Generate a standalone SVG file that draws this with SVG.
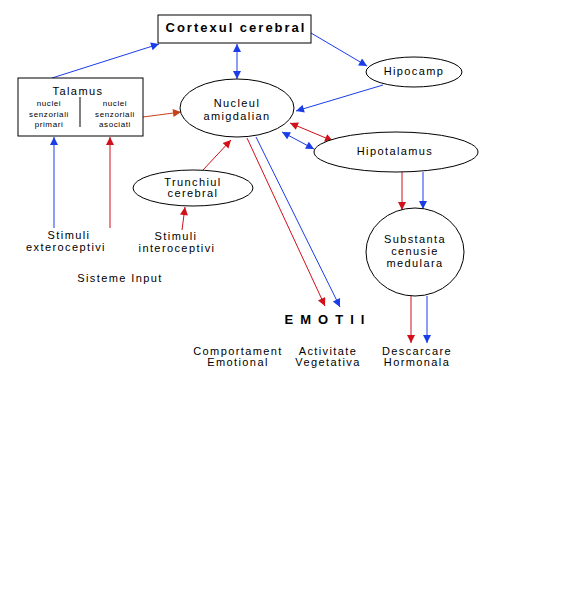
<svg xmlns="http://www.w3.org/2000/svg" width="582" height="600" viewBox="0 0 582 600">
<defs>
<marker id="ab" viewBox="0 0 10 10" refX="10" refY="5" markerWidth="9" markerHeight="8" markerUnits="userSpaceOnUse" orient="auto-start-reverse"><path d="M0,0 L10,5 L0,10 z" fill="#1a3de8"/></marker>
<marker id="ar" viewBox="0 0 10 10" refX="10" refY="5" markerWidth="9" markerHeight="8" markerUnits="userSpaceOnUse" orient="auto-start-reverse"><path d="M0,0 L10,5 L0,10 z" fill="#d0101a"/></marker>
<marker id="ao" viewBox="0 0 10 10" refX="10" refY="5" markerWidth="9" markerHeight="8" markerUnits="userSpaceOnUse" orient="auto-start-reverse"><path d="M0,0 L10,5 L0,10 z" fill="#c8401a"/></marker>
</defs>
<style>
text{font-family:"Liberation Sans",Arial,sans-serif;font-size:11px;letter-spacing:1.4px;fill:#000;text-anchor:middle}
.s{font-size:8px;letter-spacing:0.6px}
.b{font-weight:bold;font-size:13px;letter-spacing:2px}
.shape{fill:#fff;stroke:#000;stroke-width:1}
.bl{stroke:#1a3de8;stroke-width:1;fill:none}
.rd{stroke:#d0101a;stroke-width:1;fill:none}
.or{stroke:#c8401a;stroke-width:1;fill:none}
</style>
<rect width="582" height="600" fill="#fff"/>
<g id="connectors">
<line class="bl" x1="52" y1="78" x2="159" y2="44" marker-end="url(#ab)"/>
<line class="bl" x1="237" y1="44" x2="237" y2="79" marker-start="url(#ab)" marker-end="url(#ab)"/>
<line class="bl" x1="311" y1="33" x2="367" y2="66" marker-end="url(#ab)"/>
<line class="bl" x1="383" y1="85" x2="296" y2="111" marker-end="url(#ab)"/>
<line class="rd" x1="290" y1="123" x2="333" y2="141" marker-start="url(#ar)" marker-end="url(#ar)"/>
<line class="bl" x1="282" y1="132" x2="314" y2="149" marker-start="url(#ab)" marker-end="url(#ab)"/>
<line class="or" x1="143" y1="117" x2="181" y2="112" marker-end="url(#ao)"/>
<line class="rd" x1="203" y1="170" x2="231" y2="140" marker-end="url(#ar)"/>
<line class="bl" x1="54" y1="228" x2="54" y2="137" marker-end="url(#ab)"/>
<line class="rd" x1="110" y1="228" x2="110" y2="137" marker-end="url(#ar)"/>
<line class="rd" x1="182" y1="230" x2="185" y2="207" marker-end="url(#ar)"/>
<line class="rd" x1="247" y1="138" x2="325" y2="306" marker-end="url(#ar)"/>
<line class="bl" x1="256" y1="137" x2="340" y2="307" marker-end="url(#ab)"/>
<line class="rd" x1="402" y1="172" x2="402" y2="210" marker-end="url(#ar)"/>
<line class="bl" x1="423" y1="172" x2="423" y2="209" marker-end="url(#ab)"/>
<line class="rd" x1="411" y1="296" x2="411" y2="343" marker-end="url(#ar)"/>
<line class="bl" x1="427" y1="296" x2="427" y2="343" marker-end="url(#ab)"/>
</g>
<g id="cortex">
<rect class="shape" x="158" y="15" width="153" height="28"/>
<text class="b" x="236" y="32">Cortexul cerebral</text>
</g>
<g id="talamus">
<rect class="shape" x="18" y="78" width="125" height="58"/>
<line x1="80" y1="97" x2="80" y2="127" stroke="#000"/>
<text x="78" y="95">Talamus</text>
<text class="s" x="49" y="106">nuclei</text>
<text class="s" x="49" y="117">senzoriali</text>
<text class="s" x="49" y="127">primari</text>
<text class="s" x="115" y="106">nuclei</text>
<text class="s" x="115" y="117">senzoriali</text>
<text class="s" x="115" y="127">asociati</text>
</g>
<g id="nucleul">
<ellipse class="shape" cx="237" cy="108" rx="57" ry="29"/>
<text x="237" y="107">Nucleul</text>
<text x="237" y="120">amigdalian</text>
</g>
<g id="hipocamp">
<ellipse class="shape" cx="414" cy="72" rx="48" ry="15"/>
<text x="414" y="75">Hipocamp</text>
</g>
<g id="hipotalamus">
<ellipse class="shape" cx="396" cy="152" rx="82" ry="20"/>
<text x="395" y="155">Hipotalamus</text>
</g>
<g id="substanta">
<ellipse class="shape" cx="415" cy="252" rx="49" ry="44"/>
<text x="415" y="243">Substanta</text>
<text x="415" y="255">cenusie</text>
<text x="415" y="267">medulara</text>
</g>
<g id="trunchiul">
<ellipse class="shape" cx="193" cy="188" rx="60" ry="18"/>
<text x="193" y="186">Trunchiul</text>
<text x="193" y="197">cerebral</text>
</g>
<g id="stimuli-ext">
<text x="69" y="239">Stimuli</text>
<text x="66" y="251">exteroceptivi</text>
</g>
<g id="stimuli-int">
<text x="176" y="240">Stimuli</text>
<text x="177" y="252">interoceptivi</text>
</g>
<g id="sisteme">
<text x="120" y="282">Sisteme Input</text>
</g>
<g id="emotii">
<text class="b" x="328" y="324" style="letter-spacing:7px">EMOTII</text>
</g>
<g id="outputs">
<text x="238" y="355">Comportament</text>
<text x="238" y="366">Emotional</text>
<text x="328" y="355">Activitate</text>
<text x="328" y="366">Vegetativa</text>
<text x="417" y="355">Descarcare</text>
<text x="417" y="366">Hormonala</text>
</g>
</svg>
